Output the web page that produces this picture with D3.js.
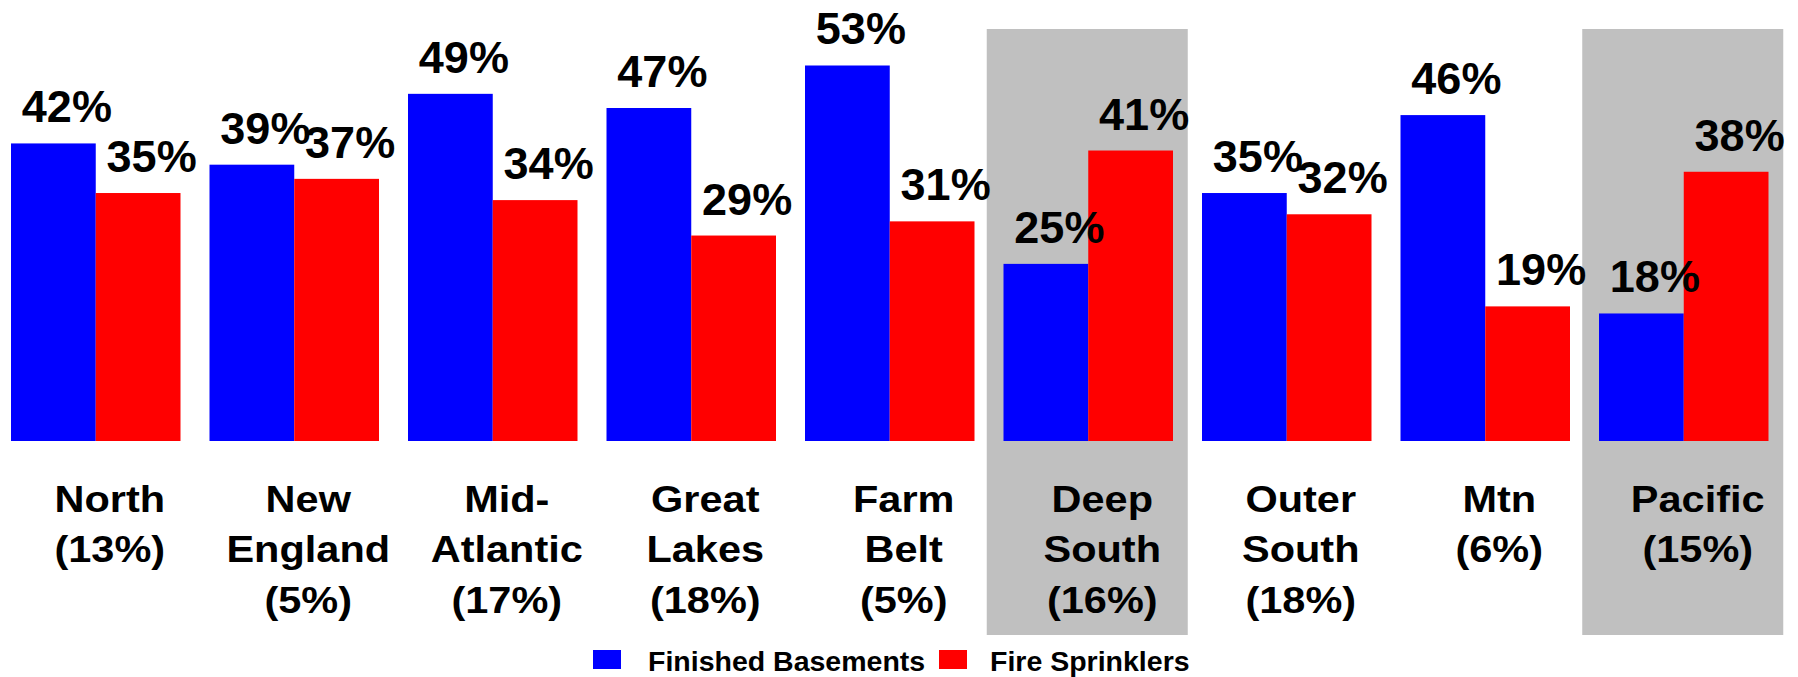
<!DOCTYPE html>
<html>
<head>
<meta charset="utf-8">
<script src="https://cdn.jsdelivr.net/npm/d3@7"></script>
<style>
  html, body { margin: 0; padding: 0; background: #fff; }
  svg { display: block; }
  text { font-family: "Liberation Sans", Arial, sans-serif; font-weight: bold; fill: #000; }
</style>
</head>
<body>
<svg id="chart" width="1798" height="677"></svg>
<script>
// Regions, their label lines and share of the total
const regions = ["North", "New England", "Mid-Atlantic", "Great Lakes", "Farm Belt", "Deep South", "Outer South", "Mtn", "Pacific"];
const regionLines = [["North"], ["New", "England"], ["Mid-", "Atlantic"], ["Great", "Lakes"], ["Farm", "Belt"], ["Deep", "South"], ["Outer", "South"], ["Mtn"], ["Pacific"]];
const regionShare = [13, 5, 17, 18, 5, 16, 18, 6, 15];

// Series
const seriesNames = ["Finished Basements", "Fire Sprinklers"];
const finishedBasements = [42, 39, 49, 47, 53, 25, 35, 46, 18];
const fireSprinklers = [35, 37, 34, 29, 31, 41, 32, 19, 38];
const seriesColors = ["#0000ff", "#ff0000"];

// Regions drawn on a shaded band
const shadedRegions = ["Deep South", "Pacific"];

const svg = d3.select("#chart");

const step = 198.5;
const x0 = -3.5;
const x = d3.scaleBand()
  .domain(regions)
  .range([x0, x0 + step * regions.length])
  .paddingInner(0.1461)
  .paddingOuter(0.1461 / 2);

const xs = d3.scaleBand()
  .domain(seriesNames)
  .range([0, x.bandwidth()])
  .padding(0);

const baseY = 441;
const y = d3.scaleLinear()
  .domain([0, baseY / 7.085])
  .range([baseY, 0]);

const color = d3.scaleOrdinal().domain(seriesNames).range(seriesColors);

// Shaded bands behind highlighted regions
svg.append("g").selectAll("rect")
  .data(shadedRegions)
  .join("rect")
  .attr("x", d => x(d) + x.bandwidth() / 2 - 1 - 100.5)
  .attr("width", 201)
  .attr("y", 29)
  .attr("height", 635 - 29)
  .attr("fill", "#c0c0c0");

const rows = regions.map((r, i) => ({
  region: r,
  values: [
    { series: seriesNames[0], value: finishedBasements[i] },
    { series: seriesNames[1], value: fireSprinklers[i] }
  ]
}));

// Bars
const groups = svg.append("g").selectAll("g")
  .data(rows)
  .join("g")
  .attr("transform", d => `translate(${x(d.region)},0)`);

groups.selectAll("rect")
  .data(d => d.values)
  .join("rect")
  .attr("x", d => xs(d.series))
  .attr("width", xs.bandwidth())
  .attr("y", d => y(d.value))
  .attr("height", d => y(0) - y(d.value))
  .attr("fill", d => color(d.series));

// Value labels above each bar
groups.selectAll("text.value")
  .data(d => d.values)
  .join("text")
  .attr("class", "value")
  .attr("x", d => xs(d.series) + xs.bandwidth() / 2 + 13.5)
  .attr("y", d => y(d.value) - 21)
  .attr("text-anchor", "middle")
  .style("font-size", "45px")
  .text(d => d.value + "%");

// Category labels below the baseline
const lineGap = 50.5;
const squeeze = 0.9;
const cats = svg.append("g").selectAll("text")
  .data(regions)
  .join("text")
  .attr("text-anchor", "middle")
  .style("font-size", "41.5px")
  .attr("transform", d => `translate(${x(d) + x.bandwidth() / 2 + 14},512) scale(1,${squeeze})`);

cats.each(function (d, i) {
  const lines = regionLines[i].concat([`(${regionShare[i]}%)`]);
  d3.select(this).selectAll("tspan")
    .data(lines)
    .join("tspan")
    .attr("x", 0)
    .attr("y", (l, j) => j * lineGap / squeeze)
    .text(l => l);
});

// Legend
const legendItems = [
  { name: seriesNames[0], sx: 593, tx: 648 },
  { name: seriesNames[1], sx: 939, tx: 990 }
];
const legend = svg.append("g");
legend.selectAll("rect")
  .data(legendItems)
  .join("rect")
  .attr("x", d => d.sx)
  .attr("y", 650)
  .attr("width", 28)
  .attr("height", 19)
  .attr("fill", d => color(d.name));
legend.selectAll("text")
  .data(legendItems)
  .join("text")
  .attr("x", d => d.tx)
  .attr("y", 670.5)
  .style("font-size", "28.5px")
  .text(d => d.name);
</script>
</body>
</html>
